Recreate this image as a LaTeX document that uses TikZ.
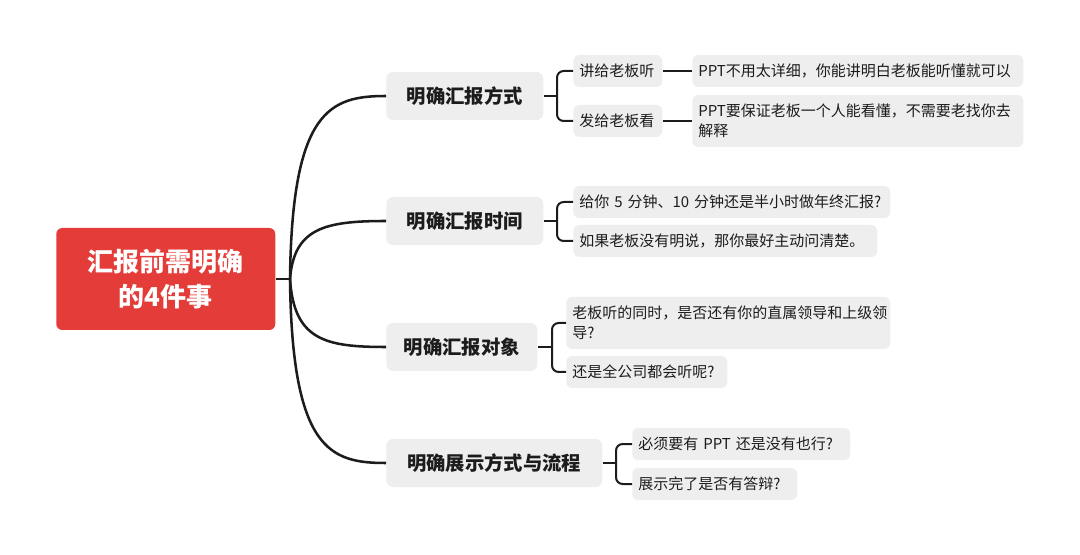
\documentclass[tikz,border=0pt]{standalone}
\usepackage{fontspec}
\setmainfont{Noto Sans CJK SC}
\definecolor{rootred}{RGB}{228,60,56}
\definecolor{boxgray}{RGB}{238,238,238}
\definecolor{ink}{RGB}{28,28,28}
\begin{document}
\begin{tikzpicture}[x=0.75pt,y=-0.75pt,
  rootbox/.style={fill=rootred,rounded corners=4.5pt,text=white,align=center,
    font=\fontsize{19.5}{26}\selectfont\bfseries,minimum width=164.25pt,minimum height=76.5pt,inner sep=0pt,anchor=west},
  mainbox/.style={fill=boxgray,rounded corners=5pt,text=ink,align=center,
    font=\fontsize{14.5}{18}\selectfont\bfseries,minimum height=36pt,inner sep=0pt,anchor=west},
  subbox/.style={fill=boxgray,rounded corners=4.5pt,text=ink,align=left,
    font=\fontsize{11.25}{15}\selectfont,minimum height=24pt,inner xsep=4.5pt,inner ysep=0pt,anchor=west},
  bigline/.style={draw=ink,line width=1.9pt},
  smallline/.style={draw=ink,line width=1.5pt,rounded corners=5pt}
]
\useasboundingbox (0,0) rectangle (1080,555);

\node[rootbox] (root) at (56,279) {汇报前需明确\\的4件事};
\coordinate (hub) at (290,279);

\node[mainbox,minimum width=117.75pt] (A1) at (386,96) {明确汇报方式};
\node[mainbox,minimum width=117.75pt] (A2) at (386,221) {明确汇报时间};
\node[mainbox,minimum width=113.25pt] (A3) at (386,347) {明确汇报对象};
\node[mainbox,minimum width=162pt] (A4) at (386,463) {明确展示方式与流程};

\node[subbox,text width=57.75pt] (B11) at (573,71) {讲给老板听};
\node[subbox,text width=57.75pt] (B12) at (573,121) {发给老板看};
\node[subbox,text width=228.75pt] (B21) at (573,202) {给你~5~分钟、10~分钟还是半小时做年终汇报?};
\node[subbox,text width=219pt] (B22) at (573,241) {如果老板没有明说，那你最好主动问清楚。};
\node[subbox,text width=234pt,minimum height=39pt] (B31) at (566,323) {老板听的同时，是否还有你的直属领导和上级领\\导?};
\node[subbox,text width=111.75pt] (B32) at (566,372) {还是全公司都会听呢?};
\node[subbox,text width=154.5pt] (B41) at (632,444) {必须要有~PPT~还是没有也行?};
\node[subbox,text width=114.75pt] (B42) at (632,484) {展示完了是否有答辩?};

\node[subbox,text width=239.25pt] (C11) at (692,71) {PPT不用太详细，你能讲明白老板能听懂就可以};
\node[subbox,text width=239.25pt,minimum height=39pt] (C12) at (692,121) {PPT要保证老板一个人能看懂，不需要老找你去\\解释};

% root connectors
\draw[bigline] (root.east) -- (hub);
\draw[bigline] (hub) .. controls (292,110) and (330,96) .. (A1.west);
\draw[bigline] (hub) .. controls (294,228) and (325,221) .. (A2.west);
\draw[bigline] (hub) .. controls (294,340) and (325,347) .. (A3.west);
\draw[bigline] (hub) .. controls (292,450) and (330,463) .. (A4.west);

% branch 1
\coordinate (k1) at (557,96);
\draw[smallline] (A1.east) -- (k1);
\draw[smallline] (k1) |- (B11.west);
\draw[smallline] (k1) |- (B12.west);
\draw[smallline] (B11.east) -- (C11.west);
\draw[smallline] (B12.east) -- (C12.west);

% branch 2
\coordinate (k2) at (557,221);
\draw[smallline] (A2.east) -- (k2);
\draw[smallline] (k2) |- (B21.west);
\draw[smallline] (k2) |- (B22.west);

% branch 3
\coordinate (k3) at (552,347);
\draw[smallline] (A3.east) -- (k3);
\draw[smallline] (k3) |- (B31.west);
\draw[smallline] (k3) |- (B32.west);

% branch 4
\coordinate (k4) at (616,463);
\draw[smallline] (A4.east) -- (k4);
\draw[smallline] (k4) |- (B41.west);
\draw[smallline] (k4) |- (B42.west);
\end{tikzpicture}
\end{document}
